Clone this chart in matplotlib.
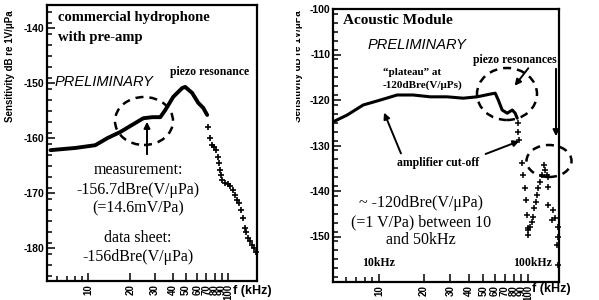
import matplotlib
matplotlib.use('Agg')
import matplotlib.pyplot as plt
from matplotlib.patches import Ellipse
from matplotlib.ticker import NullFormatter
from matplotlib.transforms import Bbox, TransformedBbox

plt.rcParams['axes.unicode_minus'] = False

# commercial hydrophone (left)
hydro_f = [5.35, 8.07, 11.2, 13.7, 16.9, 20.9, 24.7, 28.7, 32.7, 35.5, 40.5, 46.9,
           49.3, 55.3, 61.1, 66.3, 70.8]
hydro_db = [-162.2, -161.8, -161.3, -160.0, -158.9, -157.5, -156.4, -156.2, -156.2,
            -154.9, -152.5, -150.9, -150.7, -151.8, -153.6, -154.5, -155.8]
hydro_tail_f = [72.0, 74.3, 76.9, 79.4, 82.1, 84.9, 86.2, 87.7, 89.1, 90.6, 95.2, 100.0,
                103.3, 108.6, 112.2, 115.9, 119.9, 123.9, 128.0, 132.2, 134.5, 138.9,
                143.6, 148.4, 153.4, 158.5]
hydro_tail_db = [-158.0, -160.0, -161.3, -161.6, -162.2, -163.5, -164.5, -165.8, -166.7,
                 -167.6, -168.2, -168.4, -168.7, -169.5, -170.4, -171.3, -171.8, -173.1,
                 -174.5, -176.4, -177.1, -178.2, -178.7, -179.5, -180.0, -180.7]

# acoustic module (right)
module_f = [4.91, 6.10, 7.81, 10.2, 13.2, 16.9, 22.0, 28.6, 36.6, 45.5, 55.6, 60.1,
            63.0, 66.9, 72.3, 78.2, 81.8, 84.4]
module_db = [-124.8, -123.3, -121.1, -120.0, -118.9, -118.9, -119.3, -119.3, -119.6,
             -119.3, -118.7, -118.5, -120.0, -122.2, -122.9, -122.2, -122.9, -124.0]
cutoff_f = [85.7, 85.7, 87.0, 91.2, 92.6, 95.5, 97.0, 98.4, 100.0, 100.0]
cutoff_db = [-125.1, -127.0, -128.8, -133.8, -136.5, -139.3, -142.0, -145.3, -148.1, -149.7]
reson_f = [128.0, 130.0, 124.2, 134.2, 136.2, 120.4, 116.7, 114.9, 113.2, 109.7, 108.1,
           106.4, 103.1, 100.0]
reson_db = [-134.3, -135.4, -136.5, -136.5, -136.9, -138.0, -139.3, -140.9, -142.4,
            -143.7, -145.7, -146.8, -147.9, -148.6]
edge_f = [136.2, 136.2, 147.2, 151.7, 144.9, 159.0, 159.0, 156.7, 159.0]
edge_db = [-139.1, -143.1, -144.2, -145.9, -146.4, -147.9, -150.1, -151.9, -156.3]

major_f = [10, 20, 30, 40, 50, 60, 70, 80, 90, 100]
minor_f = [6, 7, 8, 9]
major_labels = [str(v) for v in major_f]

W, H = 599, 300
SERIF = 'Liberation Serif'
SANS = 'Liberation Sans'


def P(x, y):
    # pixel position in the 599x300 picture -> figure fraction
    return (x / W, 1 - y / H)


def style_axes(ax, xlim, ylim, yticks):
    ax.set_xscale('log')
    ax.set_xlim(*xlim)
    ax.set_xticks(major_f)
    ax.set_xticklabels(major_labels, rotation=90)
    ax.set_xticks(minor_f, minor=True)
    ax.xaxis.set_minor_formatter(NullFormatter())
    ax.set_yticks(yticks)
    ax.set_yticks(range(int(ylim[0]) - 1, int(ylim[1]) + 1, 2), minor=True)
    ax.set_ylim(*ylim)
    ax.tick_params(which='both', direction='in', width=1.1, color='black')
    ax.tick_params(which='major', length=6)
    ax.tick_params(which='minor', length=3.5)
    ax.tick_params(axis='x', which='both', labelsize=7, pad=2)
    ax.tick_params(axis='y', which='both', labelsize=7.5, pad=2)
    for lab in ax.get_xticklabels() + ax.get_yticklabels():
        lab.set_family(SANS)
        lab.set_weight('bold')
    for sp in ax.spines.values():
        sp.set_linewidth(1.6)


def arrow(x0, y0, x1, y1):
    fig.add_artist(matplotlib.patches.FancyArrowPatch(
        P(x0, y0), P(x1, y1), transform=fig.transFigure, arrowstyle='-|>',
        mutation_scale=9, lw=1.4, color='black'))


def dashed_ellipse(x, y, w, h):
    fig.add_artist(Ellipse(P(x, y), w / W, h / H, transform=fig.transFigure,
                           fill=False, lw=1.8, ls=(0, (3.2, 2.4)), color='black'))


fig = plt.figure(figsize=(W / 100, H / 100), dpi=100)
fig.patch.set_facecolor('white')

ax1 = fig.add_axes([47 / W, 1 - 281 / H, 210 / W, 276 / H])
ax2 = fig.add_axes([333 / W, 1 - 282 / H, 226 / W, 273 / H])

style_axes(ax1, (5.05, 161), (-186, -135.8), [-180, -170, -160, -150, -140])
style_axes(ax2, (4.9, 161), (-160, -100), [-150, -140, -130, -120, -110, -100])

# left panel data
ax1.plot(hydro_f, hydro_db, color='black', lw=2.8, solid_capstyle='round')
ax1.plot(hydro_tail_f, hydro_tail_db, ls='none', marker='+', ms=4.5, mew=1.2,
         color='black', clip_on=False)

# right panel data
ax2.plot(module_f, module_db, color='black', lw=2.2, solid_capstyle='round')
for fx, dbx in [(cutoff_f, cutoff_db), (reson_f, reson_db), (edge_f, edge_db)]:
    ax2.plot(fx, dbx, ls='none', marker='+', ms=4, mew=1.1, color='black',
             clip_on=False)

# axis labels
fig.text(*P(10, 66), 'Sensitivity dB re 1V/\u03bcPa', rotation=90, ha='center',
         va='center', fontsize=7, weight='bold', family=SANS)
lab2 = fig.text(*P(298, 66), 'Sensitivity dB re 1V/\u03bcPa', rotation=90,
                ha='center', va='center', fontsize=7, weight='bold', family=SANS)
lab2.set_clip_box(TransformedBbox(Bbox.from_extents(295.5 / W, 0, 1, 1), fig.transFigure))
lab2.set_clip_on(True)
fig.text(*P(233, 291), 'f (kHz)', ha='left', va='center', fontsize=9,
         weight='bold', family=SANS)
fig.text(*P(532, 289), 'f (kHz)', ha='left', va='center', fontsize=9,
         weight='bold', family=SANS)

# left panel annotations
fig.text(*P(58, 18), 'commercial hydrophone', ha='left', va='center',
         fontsize=10.5, weight='bold', family=SERIF)
fig.text(*P(58, 38), 'with pre-amp', ha='left', va='center',
         fontsize=10.5, weight='bold', family=SERIF)
fig.text(*P(55, 82), 'PRELIMINARY', ha='left', va='center', fontsize=10.5,
         style='italic', family=SANS)
fig.text(*P(170, 72), 'piezo resonance', ha='left', va='center', fontsize=8.5,
         weight='bold', family=SERIF)
dashed_ellipse(144, 121, 58, 48)
arrow(147, 157, 147, 119)
for txt, yy in [('measurement:', 170), ('-156.7dBre(V/\u03bcPa)', 190),
                ('(=14.6mV/Pa)', 208), ('data sheet:', 238),
                ('-156dBre(V/\u03bcPa)', 257)]:
    fig.text(*P(138, yy), txt, ha='center', va='center', fontsize=11.5,
             family=SERIF)

# right panel annotations
fig.text(*P(343, 20), 'Acoustic Module', ha='left', va='center', fontsize=11,
         weight='bold', family=SERIF)
fig.text(*P(368, 45), 'PRELIMINARY', ha='left', va='center', fontsize=10.5,
         style='italic', family=SANS)
fig.text(*P(473, 60), 'piezo resonances', ha='left', va='center', fontsize=8.5,
         weight='bold', family=SERIF)
fig.text(*P(383, 72), '\u201cplateau\u201d at', ha='left', va='center', fontsize=8,
         weight='bold', family=SERIF)
fig.text(*P(383, 85), '-120dBre(V/\u03bcPs)', ha='left', va='center', fontsize=8,
         weight='bold', family=SERIF)
fig.text(*P(397, 163), 'amplifier cut-off', ha='left', va='center', fontsize=8.5,
         weight='bold', family=SERIF)
fig.text(*P(362, 263), '10kHz', ha='left', va='center', fontsize=8.5,
         weight='bold', family=SERIF)
fig.text(*P(513, 263), '100kHz', ha='left', va='center', fontsize=8.5,
         weight='bold', family=SERIF)
for txt, yy in [('~ -120dBre(V/\u03bcPa)', 203), ('(=1 V/Pa) between 10', 222),
                ('and 50kHz', 240)]:
    fig.text(*P(421, yy), txt, ha='center', va='center', fontsize=11.5,
             family=SERIF)
dashed_ellipse(507, 94, 60, 52)
dashed_ellipse(549, 161, 45, 32)
arrow(530, 66, 513, 88)
arrow(556, 66, 556, 139)
arrow(402, 156, 383, 110)
arrow(483, 155, 522, 140)

fig.savefig('out.png', dpi=100)
